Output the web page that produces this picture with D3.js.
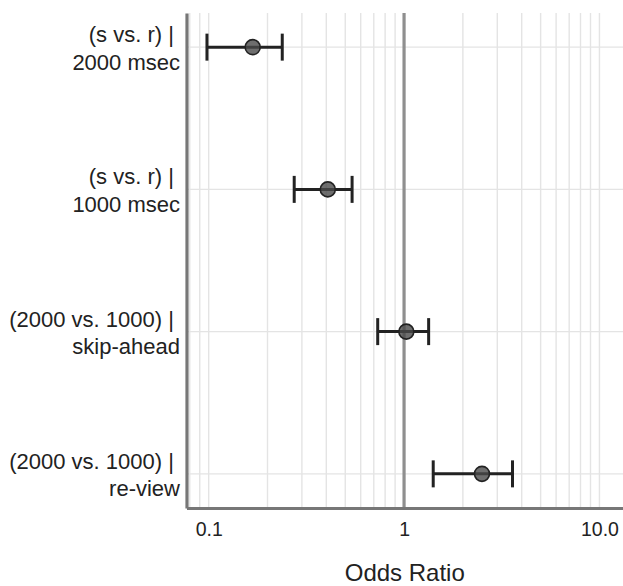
<!DOCTYPE html>
<html>
<head>
<meta charset="utf-8">
<script src="https://cdn.jsdelivr.net/npm/d3@7"></script>
<style>
  body { margin: 0; background: #fff; }
  text { font-family: "Liberation Sans", Arial, Helvetica, sans-serif; fill: #222; }
</style>
</head>
<body>
<div id="grafica"></div>
<script>
// datos
var labelTop = ["(s vs. r) | ", "(s vs. r) | ", "(2000 vs. 1000) | ", "(2000 vs. 1000) | "];
var labelBottom = ["2000 msec", "1000 msec", "skip-ahead", "re-view"];
var oddsRatio = [0.168, 0.407, 1.027, 2.505];
var ciLower = [0.098, 0.274, 0.733, 1.41];
var ciUpper = [0.238, 0.542, 1.336, 3.59];
var xTickValues = [0.1, 1, 10];
var xTickLabels = ["0.1", "1", "10.0"];

var data = oddsRatio.map(function(d, i) {
  return { key: i, top: labelTop[i], bottom: labelBottom[i], or: d, lo: ciLower[i], hi: ciUpper[i] };
});

// dimensiones y margenes
var W = 623, H = 586;
var margin = {top: 13, right: 0, bottom: 78, left: 186.5},
width = W - margin.left - margin.right,
height = H - margin.top - margin.bottom;

var svg = d3.select("#grafica")
.append("svg")
.attr("width", W)
.attr("height", H)
.append("g")
.attr("transform", "translate(" + margin.left + "," + margin.top + ")");

// escalas
var x = d3.scaleLog()
.domain([0.077, 13.2])
.range([0, width]);

var y = d3.scalePoint()
.domain(data.map(function(d) { return d.key; }))
.range([0, height])
.padding(0.24);

// rejilla vertical (ticks menores)
var minor = x.ticks().filter(function(v) { return v >= 0.08 && v <= 13; });
svg.append("g")
.selectAll("line")
.data(minor)
.enter()
.append("line")
.attr("x1", function(d) { return x(d); })
.attr("x2", function(d) { return x(d); })
.attr("y1", 0)
.attr("y2", height)
.attr("stroke", "#e4e4e4")
.attr("stroke-width", 1.4);

// rejilla horizontal
svg.append("g")
.selectAll("line")
.data(data)
.enter()
.append("line")
.attr("x1", 0)
.attr("x2", width)
.attr("y1", function(d) { return y(d.key); })
.attr("y2", function(d) { return y(d.key); })
.attr("stroke", "#e4e4e4")
.attr("stroke-width", 1.4);

// linea de referencia en 1
svg.append("line")
.attr("x1", x(1)).attr("x2", x(1))
.attr("y1", 0).attr("y2", height)
.attr("stroke", "#8f8f8f")
.attr("stroke-width", 3.2);

// barras de error
var capH = 13.5;
var eb = svg.append("g").selectAll("g")
.data(data)
.enter()
.append("g")
.attr("stroke", "#222")
.attr("stroke-width", 3);

eb.append("line")
.attr("x1", function(d) { return x(d.lo); })
.attr("x2", function(d) { return x(d.hi); })
.attr("y1", function(d) { return y(d.key); })
.attr("y2", function(d) { return y(d.key); });

eb.append("line")
.attr("x1", function(d) { return x(d.lo); })
.attr("x2", function(d) { return x(d.lo); })
.attr("y1", function(d) { return y(d.key) - capH; })
.attr("y2", function(d) { return y(d.key) + capH; });

eb.append("line")
.attr("x1", function(d) { return x(d.hi); })
.attr("x2", function(d) { return x(d.hi); })
.attr("y1", function(d) { return y(d.key) - capH; })
.attr("y2", function(d) { return y(d.key) + capH; });

// puntos
svg.append("g")
.selectAll("circle")
.data(data)
.enter()
.append("circle")
.attr("cx", function(d) { return x(d.or); })
.attr("cy", function(d) { return y(d.key); })
.attr("r", 7.5)
.attr("fill", "#4a4a4a")
.attr("fill-opacity", 0.8)
.attr("stroke", "#222")
.attr("stroke-width", 1.6);

// eje X
var xAxis = svg.append("g")
.attr("transform", "translate(0," + height + ")")
.call(d3.axisBottom(x)
  .tickValues(xTickValues)
  .tickFormat(function(d, i) { return xTickLabels[i]; })
  .tickSize(0)
  .tickSizeOuter(0));
xAxis.select(".domain").attr("stroke", "#777").attr("stroke-width", 3.2);
xAxis.selectAll("text")
.attr("y", 28)
.attr("dy", 0)
.style("font-size", "19.5px")
.style("font-family", "'Liberation Sans', Arial, sans-serif")
.attr("fill", "#222");

// eje Y
var yAxis = svg.append("g")
.call(d3.axisLeft(y).tickSize(0).tickSizeOuter(0).tickFormat(""));
yAxis.select(".domain").attr("stroke", "#777").attr("stroke-width", 3.2);
yAxis.selectAll(".tick text").remove();

var lab = yAxis.selectAll(".tick")
.append("text")
.attr("text-anchor", "end")
.attr("xml:space", "preserve")
.style("white-space", "pre")
.style("font-size", "22px")
.style("font-family", "'Liberation Sans', Arial, sans-serif")
.attr("fill", "#222");
lab.append("tspan")
.attr("x", -6.5)
.attr("y", -5.5)
.text(function(d) { return labelTop[d]; });
lab.append("tspan")
.attr("x", -6.5)
.attr("y", 22)
.text(function(d) { return labelBottom[d]; });

// titulo eje X
svg.append("text")
.attr("x", width / 2)
.attr("y", height + 73)
.attr("text-anchor", "middle")
.style("font-size", "24px")
.text("Odds Ratio");
</script>
</body>
</html>
